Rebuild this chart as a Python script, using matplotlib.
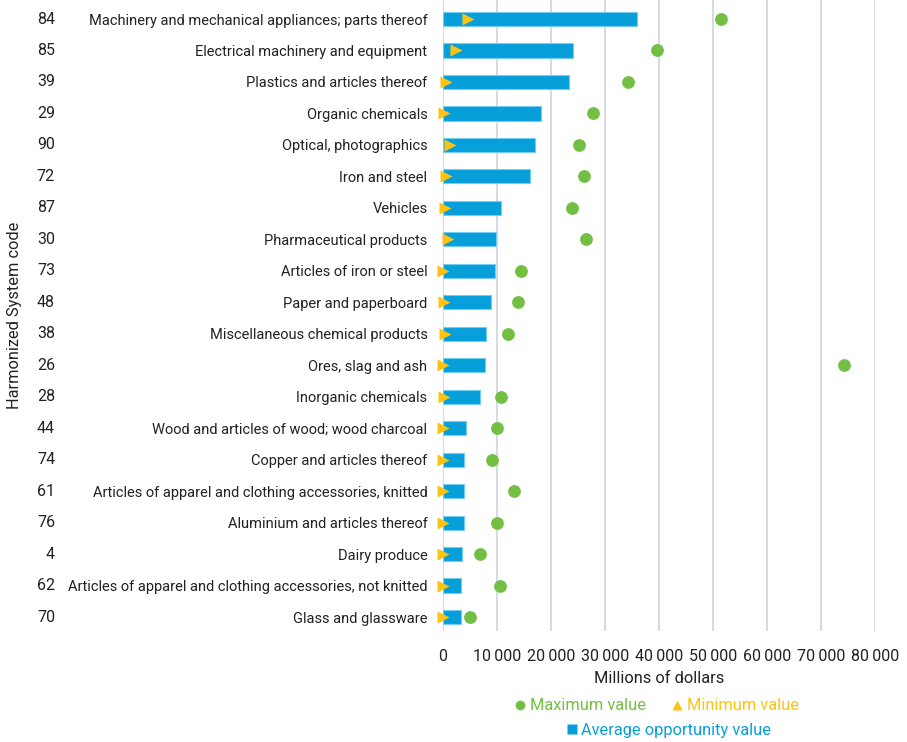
import matplotlib

matplotlib.use("Agg")
import matplotlib.pyplot as plt
import matplotlib.transforms as mtransforms
from matplotlib.lines import Line2D

plt.rcParams["font.family"] = ["Roboto", "DejaVu Sans"]

# HS chapters, top to bottom
codes = ["84", "85", "39", "29", "90", "72", "87", "30", "73", "48",
         "38", "26", "28", "44", "74", "61", "76", "4", "62", "70"]
products = [
    "Machinery and mechanical appliances; parts thereof",
    "Electrical machinery and equipment",
    "Plastics and articles thereof",
    "Organic chemicals",
    "Optical, photographics",
    "Iron and steel",
    "Vehicles",
    "Pharmaceutical products",
    "Articles of iron or steel",
    "Paper and paperboard",
    "Miscellaneous chemical products",
    "Ores, slag and ash",
    "Inorganic chemicals",
    "Wood and articles of wood; wood charcoal",
    "Copper and articles thereof",
    "Articles of apparel and clothing accessories, knitted",
    "Aluminium and articles thereof",
    "Dairy produce",
    "Articles of apparel and clothing accessories, not knitted",
    "Glass and glassware",
]
# millions of dollars
avg_value = [36000, 24100, 23400, 18200, 17000, 16100, 10800, 9900, 9600, 9000,
             8000, 7800, 6900, 4300, 4000, 4000, 3900, 3600, 3400, 3300]
max_value = [51500, 39700, 34400, 27800, 25200, 26200, 23900, 26500, 14500, 13900,
             12000, 74400, 10800, 10000, 9100, 13200, 10000, 6900, 10700, 5100]
min_value = [4700, 2500, 550, 300, 1400, 670, 430, 900, 110, 240,
             490, 0, 300, 50, 110, 0, 0, 0, 0, 0]
xticks = list(range(0, 80001, 10000))

BLUE = "#079FDA"
GREEN = "#72BF44"
YELLOW = "#FFC20E"
GRID = "#C9D2D8"
TXT = "#222222"

fig = plt.figure(figsize=(9.07, 7.42), dpi=100)
ax = fig.add_axes([442.7 / 907, 1 - 630.7 / 742, 432.0 / 907, 630.7 / 742])

y = list(range(len(codes)))
ax.barh(y, avg_value, height=0.45, color=BLUE, edgecolor="#74CDF0",
        linewidth=0.8, zorder=2)
ax.plot(max_value, y, "o", ms=9.2, color=GREEN, mec="none", zorder=4,
        clip_on=False)
ax.plot(min_value, y, ">", ms=9.2, color=YELLOW, mec="none", zorder=3,
        clip_on=False)

ax.set_xlim(0, 80000)
ax.set_ylim(len(codes) - 1 + 0.435, -0.604)
ax.set_xticks(xticks)
ax.set_xticklabels([f"{v:,}".replace(",", "\u2009") for v in xticks])
ax.set_yticks(y)
ax.set_yticklabels(products)
ax.tick_params(axis="both", length=0, colors=TXT)
ax.tick_params(axis="y", pad=11, labelsize=10.5)
ax.tick_params(axis="x", pad=13, labelsize=11.5)
ax.grid(axis="x", color=GRID, linewidth=1.1, zorder=0)
ax.set_axisbelow(True)
for s in ax.spines.values():
    s.set_visible(False)
ax.set_xlabel("Millions of dollars", fontsize=11.8, color=TXT, labelpad=5)

trans = mtransforms.blended_transform_factory(fig.transFigure, ax.transData)
for yi, c in zip(y, codes):
    ax.text(55 / 907, yi, c, transform=trans, ha="right", va="center",
            fontsize=11.5, color=TXT)
fig.text(15 / 907, 1 - 315 / 742, "Harmonized System code", rotation=90,
         ha="center", va="center", fontsize=11.8, color=TXT)

h_max = Line2D([], [], marker="o", ls="none", ms=7, color=GREEN, mec="none")
h_min = Line2D([], [], marker="^", ls="none", ms=7, color=YELLOW, mec="none")
h_avg = Line2D([], [], marker="s", ls="none", ms=7, color=BLUE, mec="none")
leg1 = fig.legend([h_max, h_min], ["Maximum value", "Minimum value"], ncol=2,
                  loc="center", bbox_to_anchor=(657 / 907, 1 - 706 / 742),
                  frameon=False, fontsize=11.8, handlelength=0.6,
                  handletextpad=0.3, columnspacing=1.6, borderpad=0)
leg2 = fig.legend([h_avg], ["Average opportunity value"], loc="center",
                  bbox_to_anchor=(669 / 907, 1 - 730 / 742), frameon=False,
                  fontsize=11.8, handlelength=0.6, handletextpad=0.3,
                  borderpad=0)
for t, c in zip(leg1.get_texts(), [GREEN, YELLOW]):
    t.set_color(c)
leg2.get_texts()[0].set_color(BLUE)

fig.savefig("out.png", dpi=100)
